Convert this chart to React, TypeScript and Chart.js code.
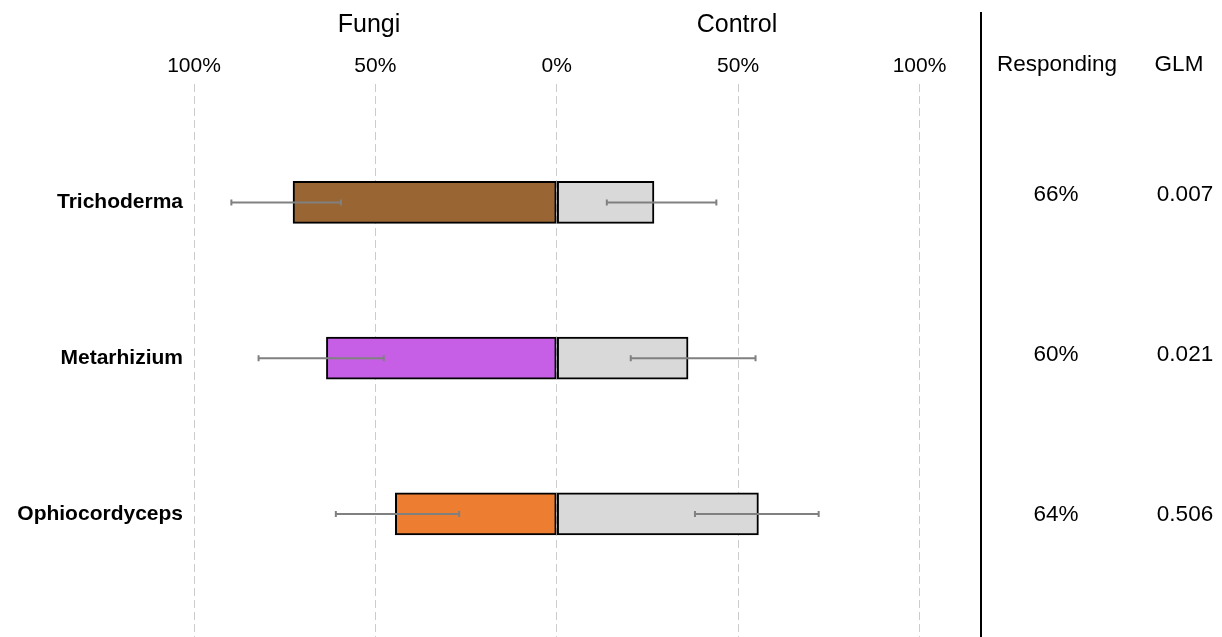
import React, { useEffect, useRef } from "react";
import { Chart, registerables } from "chart.js";

Chart.register(...registerables);

// ---- data ----
const categories = ["Trichoderma", "Metarhizium", "Ophiocordyceps"];
const fungiValues = [-72.7, -63.5, -44.5];
const controlValues = [26.8, 36.2, 55.6];
const fungiErrLow = [-89.7, -82.2, -60.9];
const fungiErrHigh = [-59.5, -47.7, -26.9];
const controlErrLow = [13.8, 20.4, 38.1];
const controlErrHigh = [44.0, 54.8, 72.2];
const fungiColors = ["#996633", "#c65fe5", "#ed7d31"];
const controlColor = "#d9d9d9";
const xTickValues = [-100, -50, 0, 50, 100];
const respondingLabels = ["66%", "60%", "64%"];
const glmLabels = ["0.007", "0.021", "0.506"];

// ---- layout ----
const W = 1222;
const H = 637;
const FONT = "'Liberation Sans', Arial, sans-serif";

const overlayPlugin = {
  id: "overlay",
  afterDatasetsDraw(chart: any) {
    const ctx = chart.ctx;
    const xs = chart.scales.x;
    const ys = chart.scales.y;
    ctx.save();
    ctx.strokeStyle = "#808080";
    ctx.lineWidth = 2;
    const cap = 3;
    const drawErr = (lo: number, hi: number, i: number) => {
      const y = ys.getPixelForValue(i);
      const x1 = xs.getPixelForValue(lo);
      const x2 = xs.getPixelForValue(hi);
      ctx.beginPath();
      ctx.moveTo(x1, y);
      ctx.lineTo(x2, y);
      ctx.moveTo(x1, y - cap);
      ctx.lineTo(x1, y + cap);
      ctx.moveTo(x2, y - cap);
      ctx.lineTo(x2, y + cap);
      ctx.stroke();
    };
    categories.forEach((_, i) => {
      drawErr(fungiErrLow[i], fungiErrHigh[i], i);
      drawErr(controlErrLow[i], controlErrHigh[i], i);
    });
    ctx.restore();
  },
  afterDraw(chart: any) {
    const ctx = chart.ctx;
    ctx.save();
    ctx.fillStyle = "#000";
    ctx.textAlign = "center";
    ctx.textBaseline = "alphabetic";
    ctx.font = `25px ${FONT}`;
    ctx.fillText("Fungi", 369, 32);
    ctx.fillText("Control", 737, 32);

    // separator
    ctx.strokeStyle = "#000";
    ctx.lineWidth = 2;
    ctx.beginPath();
    ctx.moveTo(981, 12);
    ctx.lineTo(981, H);
    ctx.stroke();

    ctx.font = `22.5px ${FONT}`;
    ctx.fillText("Responding", 1057, 71);
    ctx.fillText("GLM", 1179, 71);
    categories.forEach((_, i) => {
      const yb = 201 + i * 160;
      ctx.fillText(respondingLabels[i], 1056, yb);
      ctx.fillText(glmLabels[i], 1185, yb);
    });
    ctx.restore();
  },
};

export default function App() {
  const ref = useRef<HTMLCanvasElement | null>(null);
  useEffect(() => {
    if (!ref.current) return;
    const chart = new Chart(ref.current, {
      type: "bar",
      data: {
        datasets: [
          {
            label: "Fungi",
            data: fungiValues.map((v, i) => ({ x: v, y: i })) as any,
            backgroundColor: fungiColors,
            borderColor: "#000",
            borderWidth: 2,
            borderSkipped: false,
            barThickness: 42,
            grouped: false,
          } as any,
          {
            label: "Control",
            data: controlValues.map((v, i) => ({ x: v, y: i })) as any,
            backgroundColor: controlColor,
            borderColor: "#000",
            borderWidth: 2,
            borderSkipped: false,
            barThickness: 42,
            grouped: false,
          } as any,
        ],
      },
      options: {
        indexAxis: "y",
        responsive: false,
        animation: false,
        devicePixelRatio: 1,
        layout: { padding: { left: 0, right: W - 919.5, top: 0, bottom: 0 } },
        plugins: {
          legend: { display: false },
          tooltip: { enabled: false },
        },
        scales: {
          x: {
            type: "linear",
            position: "top",
            min: -100,
            max: 100,
            afterBuildTicks: (scale: any) => {
              scale.ticks = xTickValues.map((v) => ({ value: v }));
            },
            afterFit: (scale: any) => {
              scale.height = 84;
            },
            ticks: {
              font: { size: 21, family: FONT },
              color: "#000",
              padding: 5,
              callback: (v: any) => `${Math.abs(Number(v))}%`,
            },
            grid: { color: "#cccccc", lineWidth: 1, drawTicks: false },
            border: { display: false, dash: [8, 4] },
          },
          y: {
            type: "linear",
            reverse: true,
            offset: false,
            min: -0.76,
            max: 2.79,
            afterBuildTicks: (scale: any) => {
              scale.ticks = categories.map((_, i) => ({ value: i }));
            },
            afterFit: (scale: any) => {
              scale.width = 194;
              scale.paddingTop = 0;
              scale.paddingBottom = 0;
            },
            ticks: {
              font: { size: 21, family: FONT, weight: "bold" },
              color: "#000",
              padding: 11,
              callback: (v: any) => categories[Number(v)] ?? "",
            },
            grid: { display: false, drawTicks: false, offset: false },
            border: { display: false },
          },
        },
      } as any,
      plugins: [overlayPlugin],
    });
    return () => chart.destroy();
  }, []);
  return (
    <div style={{ position: "absolute", left: 0, top: 0, width: W, height: H, background: "#fff" }}>
      <canvas ref={ref} width={W} height={H} style={{ display: "block" }} />
    </div>
  );
}
